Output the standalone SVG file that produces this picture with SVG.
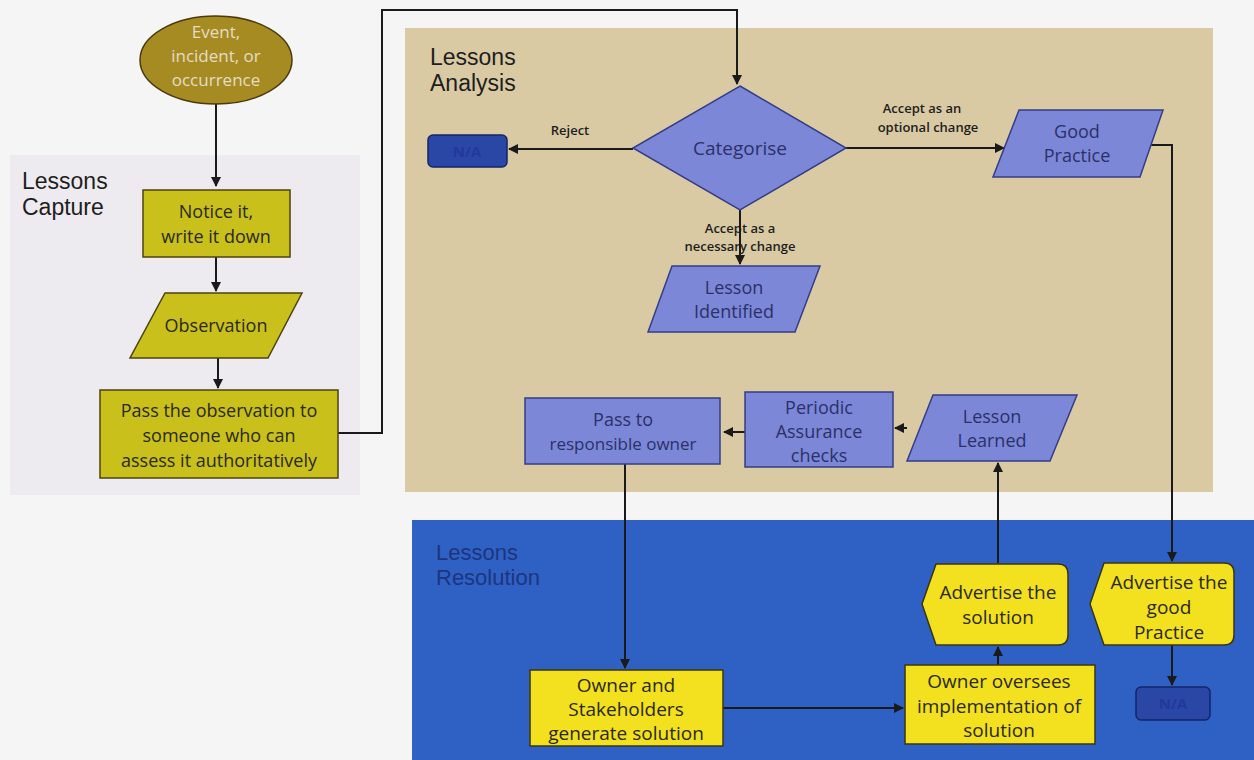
<svg xmlns="http://www.w3.org/2000/svg" width="1254" height="760" viewBox="0 0 1254 760">
  <defs>
    <marker id="arrow" viewBox="0 0 10 10" refX="9" refY="5" markerWidth="5" markerHeight="5" orient="auto-start-reverse">
      <path d="M0,0 L10,5 L0,10 Z" fill="#1a1a1a"/>
    </marker>
    <style>
      text { font-family: "Open Sans", "Noto Sans", "Liberation Sans", sans-serif; text-anchor: middle; }
      .title { font-family: "Liberation Sans", Arial, sans-serif; font-size: 23px; text-anchor: start; fill: #1e1e1e; }
      .res-title { font-family: "Liberation Sans", Arial, sans-serif; font-size: 22px; text-anchor: start; fill: #1d3580; }
      .olive { fill: #c9c01b; stroke: #4a4410; stroke-width: 1.5; }
      .yellow { fill: #f3e01e; stroke: #3a3612; stroke-width: 1.5; }
      .violet { fill: #7c87d8; stroke: #353d86; stroke-width: 1.5; }
      .term { fill: #2a47a6; stroke: #15246a; stroke-width: 1.5; }
      .t-dark { font-size: 18px; fill: #2a2a1a; }
      .t-violet { font-size: 18px; fill: #2b3168; }
      .t-yellow { font-size: 19px; fill: #2a2a1a; }
      .t-term { font-size: 15px; fill: #22389a; font-weight: bold; }
      .lbl { font-size: 13px; fill: #1e1e1e; font-weight: 600; }
      .conn { fill: none; stroke: #1a1a1a; stroke-width: 2; }
    </style>
  </defs>

  <!-- page and swimlane panels -->
  <rect x="0" y="0" width="1254" height="760" fill="#f6f5f6"/>
  <rect x="10" y="155" width="350" height="340" fill="#eeebf0"/>
  <rect x="405" y="28" width="808" height="464" fill="#d9caa3"/>
  <rect x="412" y="520" width="842" height="240" fill="#2f61c4"/>

  <text class="title" x="22" y="189">Lessons</text>
  <text class="title" x="22" y="215">Capture</text>
  <text class="title" x="430" y="65">Lessons</text>
  <text class="title" x="430" y="91">Analysis</text>
  <text class="res-title" x="436" y="560">Lessons</text>
  <text class="res-title" x="436" y="585">Resolution</text>

  <!-- connectors -->
  <g id="connectors">
    <path class="conn" d="M216,104 V186" marker-end="url(#arrow)"/>
    <path class="conn" d="M216,257 V291" marker-end="url(#arrow)"/>
    <path class="conn" d="M218,358 V388" marker-end="url(#arrow)"/>
    <path class="conn" d="M338,433 H382 V10 H737 V84" marker-end="url(#arrow)"/>
    <path class="conn" d="M633,149 H509" marker-end="url(#arrow)"/>
    <path class="conn" d="M846,148 H1004" marker-end="url(#arrow)"/>
    <path class="conn" d="M740,210 V264" marker-end="url(#arrow)"/>
    <path class="conn" d="M1150,145 H1172 V561" marker-end="url(#arrow)"/>
    <path class="conn" d="M1172,645 V685" marker-end="url(#arrow)"/>
    <path class="conn" d="M907,428 H895" marker-end="url(#arrow)"/>
    <path class="conn" d="M745,432 H724" marker-end="url(#arrow)"/>
    <path class="conn" d="M625,464 V668" marker-end="url(#arrow)"/>
    <path class="conn" d="M723,708 H903" marker-end="url(#arrow)"/>
    <path class="conn" d="M998,665 V647" marker-end="url(#arrow)"/>
    <path class="conn" d="M998,563 V463" marker-end="url(#arrow)"/>
  </g>

  <!-- connector labels -->
  <text class="lbl" x="570" y="135">Reject</text>
  <text class="lbl" x="922" y="113">Accept as an</text>
  <text class="lbl" x="928" y="132">optional change</text>
  <text class="lbl" x="740" y="233">Accept as a</text>
  <text class="lbl" x="740" y="251">necessary change</text>

  <!-- Lessons Capture -->
  <g id="event">
    <ellipse cx="216" cy="60" rx="76" ry="44" fill="#a68b22" stroke="#4a3a0e" stroke-width="1.5"/>
    <text x="216" y="38" style="font-size:17px; fill:#e4ddc4">Event,</text>
    <text x="216" y="62" style="font-size:17px; fill:#e4ddc4">incident, or</text>
    <text x="216" y="86" style="font-size:17px; fill:#e4ddc4">occurrence</text>
  </g>
  <g id="notice">
    <rect class="olive" x="143" y="190" width="147" height="67"/>
    <text class="t-dark" x="216" y="218">Notice it,</text>
    <text class="t-dark" x="216" y="243">write it down</text>
  </g>
  <g id="observation">
    <polygon class="olive" points="165,293 302,293 268,358 130,358"/>
    <text class="t-dark" x="216" y="332">Observation</text>
  </g>
  <g id="pass-observation">
    <rect class="olive" x="100" y="390" width="238" height="88"/>
    <text class="t-dark" x="219" y="417">Pass the observation to</text>
    <text class="t-dark" x="219" y="442">someone who can</text>
    <text class="t-dark" x="219" y="467">assess it authoritatively</text>
  </g>

  <!-- Lessons Analysis -->
  <g id="categorise">
    <polygon class="violet" points="740,86 846,148 740,210 633,148"/>
    <text class="t-violet" x="740" y="155" style="font-size:19px">Categorise</text>
  </g>
  <g id="na-reject">
    <rect class="term" x="428" y="135" width="79" height="32" rx="5"/>
    <text class="t-term" x="467" y="157">N/A</text>
  </g>
  <g id="good-practice">
    <polygon class="violet" points="1019,110 1163,110 1140,177 993,177"/>
    <text class="t-violet" x="1077" y="138">Good</text>
    <text class="t-violet" x="1077" y="162">Practice</text>
  </g>
  <g id="lesson-identified">
    <polygon class="violet" points="672,266 820,266 795,332 648,332"/>
    <text class="t-violet" x="734" y="294">Lesson</text>
    <text class="t-violet" x="734" y="318">Identified</text>
  </g>
  <g id="lesson-learned">
    <polygon class="violet" points="933,395 1077,395 1050,461 907,461"/>
    <text class="t-violet" x="992" y="423">Lesson</text>
    <text class="t-violet" x="992" y="447">Learned</text>
  </g>
  <g id="periodic-checks">
    <rect class="violet" x="745" y="392" width="148" height="75"/>
    <text class="t-violet" x="819" y="414">Periodic</text>
    <text class="t-violet" x="819" y="438">Assurance</text>
    <text class="t-violet" x="819" y="462">checks</text>
  </g>
  <g id="pass-owner">
    <rect class="violet" x="525" y="398" width="195" height="66"/>
    <text class="t-violet" x="623" y="426">Pass to</text>
    <text class="t-violet" x="623" y="450" style="font-size:17px">responsible owner</text>
  </g>

  <!-- Lessons Resolution -->
  <g id="owner-stakeholders">
    <rect class="yellow" x="530" y="670" width="193" height="76"/>
    <text class="t-yellow" x="626" y="692">Owner and</text>
    <text class="t-yellow" x="626" y="716">Stakeholders</text>
    <text class="t-yellow" x="626" y="740">generate solution</text>
  </g>
  <g id="owner-oversees">
    <rect class="yellow" x="905" y="665" width="190" height="79"/>
    <text class="t-yellow" x="999" y="688">Owner oversees</text>
    <text class="t-yellow" x="999" y="713">implementation of</text>
    <text class="t-yellow" x="999" y="737">solution</text>
  </g>
  <g id="advertise-solution">
    <path class="yellow" d="M922,604 L936,564 L1058,564 Q1068,564 1068,574 L1068,635 Q1068,645 1058,645 L936,645 Z"/>
    <text class="t-yellow" x="998" y="599">Advertise the</text>
    <text class="t-yellow" x="998" y="624">solution</text>
  </g>
  <g id="advertise-good-practice">
    <path class="yellow" d="M1090,604 L1104,563 L1224,563 Q1234,563 1234,573 L1234,635 Q1234,645 1224,645 L1104,645 Z"/>
    <text class="t-yellow" x="1169" y="589">Advertise the</text>
    <text class="t-yellow" x="1169" y="614">good</text>
    <text class="t-yellow" x="1169" y="639">Practice</text>
  </g>
  <g id="na-good-practice">
    <rect class="term" x="1136" y="687" width="74" height="33" rx="5"/>
    <text class="t-term" x="1173" y="709">N/A</text>
  </g>
</svg>
